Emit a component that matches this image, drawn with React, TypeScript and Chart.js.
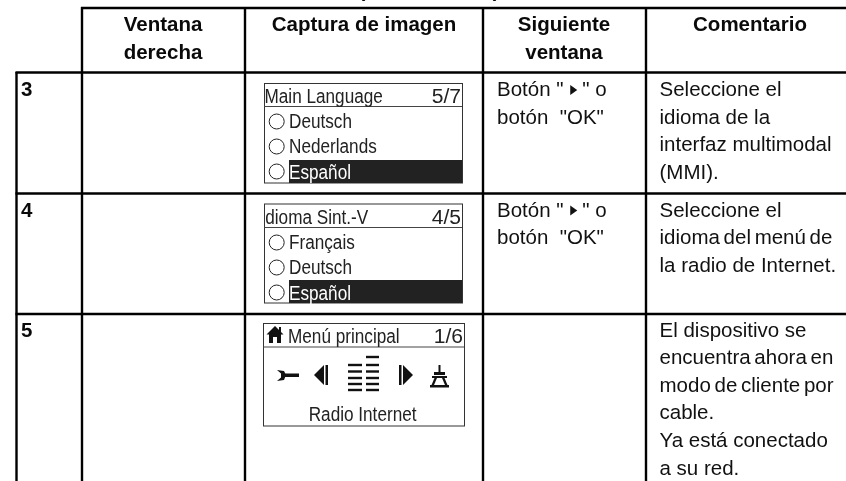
import React, { useEffect, useRef } from "react";
import { Chart, registerables } from "chart.js";

Chart.register(...registerables);

const SANS = '"Liberation Sans", Arial, sans-serif';

const caption = { x: 429, y: -3, text: "(continuación)" };
const headers = [
  { x: 163, y: 31, lines: ["Ventana", "derecha"] },
  { x: 364, y: 31, lines: ["Captura de imagen"] },
  { x: 564, y: 31, lines: ["Siguiente", "ventana"] },
  { x: 750, y: 31, lines: ["Comentario"] },
];
const stepNumbers = [
  { x: 21, y: 96, t: "3" },
  { x: 21, y: 217, t: "4" },
  { x: 21, y: 337, t: "5" },
];
const nextWindowCells = [
  { y: 96, lines: ['Botón " ', 'botón  "OK"'] },
  { y: 216.5, lines: ['Botón " ', 'botón  "OK"'] },
];
const commentCells = [
  { y: 96, lines: ["Seleccione el", "idioma de la", "interfaz multimodal", "(MMI)."] },
  { y: 216.5, lines: ["Seleccione el", "idioma del menú de", "la radio de Internet."] },
  { y: 336.5, lines: ["El dispositivo se", "encuentra ahora en", "modo de cliente por", "cable.", "Ya está conectado", "a su red."] },
];
const tightLines = ["idioma del menú de", "encuentra ahora en", "modo de cliente por"];
const screens = [
  { x0: 264, x1: 462, y0: 83.5, y1: 183, rule: 106, titleX: 264.5, title: "Main Language", page: "5/7", options: ["Deutsch", "Nederlands", "Español"] },
  { x0: 264, x1: 462, y0: 204, y1: 303, rule: 227, titleX: 260.5, title: "Idioma Sint.-V", page: "4/5", options: ["Français", "Deutsch", "Español"] },
];
const menuScreen = { x0: 263, x1: 464, y0: 323.5, y1: 426, rule: 346.5, title: "Menú principal", page: "1/6", label: "Radio Internet" };
const listLeftBars = [365, 371.5, 378, 384, 390];
const listRightBars = [357, 365, 371.5, 378, 384, 390];

const cellRules: number[][][] = [
  [[81, 8], [846, 8]],
  [[15.5, 72.5], [846, 72.5]],
  [[15.5, 193.5], [846, 193.5]],
  [[15.5, 314], [846, 314]],
  [[16.5, 72], [16.5, 481]],
  [[82, 7], [82, 481]],
  [[245, 7], [245, 481]],
  [[483, 7], [483, 481]],
  [[646, 7], [646, 481]],
];

const tablePlugin = {
  id: "tableText",
  afterDatasetsDraw(chart: any) {
    const { ctx, scales } = chart;
    const X = (v: number) => scales.x.getPixelForValue(v);
    const Y = (v: number) => scales.y.getPixelForValue(v);
    const poly = (pts: number[][]) => {
      ctx.beginPath();
      pts.forEach((p, i) => (i ? ctx.lineTo(X(p[0]), Y(p[1])) : ctx.moveTo(X(p[0]), Y(p[1]))));
      ctx.closePath();
      ctx.fill();
    };
    const box = (x0: number, y0: number, x1: number, y1: number) =>
      ctx.fillRect(X(x0), Y(y0), X(x1) - X(x0), Y(y1) - Y(y0));
    const narrow = (t: string, x: number, y: number, sx = 0.88, align = "left") => {
      ctx.save();
      ctx.translate(X(x), Y(y));
      ctx.scale(sx, 1);
      ctx.textAlign = align;
      ctx.fillText(t, 0, 0);
      ctx.restore();
    };
    ctx.save();
    ctx.textBaseline = "alphabetic";

    // header
    ctx.fillStyle = "#0a0a0a";
    ctx.font = `bold 20.5px ${SANS}`;
    ctx.textAlign = "center";
    ctx.fillText(caption.text, X(caption.x), Y(caption.y));
    headers.forEach((h) => h.lines.forEach((l, i) => ctx.fillText(l, X(h.x), Y(h.y + i * 28))));
    ctx.textAlign = "left";
    stepNumbers.forEach((s) => ctx.fillText(s.t, X(s.x), Y(s.y)));

    // body
    ctx.font = `20.5px ${SANS}`;
    ctx.fillStyle = "#111";
    nextWindowCells.forEach((c) => {
      ctx.fillText(c.lines[0], X(497), Y(c.y));
      const w = ctx.measureText(c.lines[0]).width;
      poly([[497 + w + 1, c.y - 11], [497 + w + 8, c.y - 6], [497 + w + 1, c.y - 1]]);
      ctx.fillText('" o', X(497 + w + 13), Y(c.y));
      ctx.fillText(c.lines[1], X(497), Y(c.y + 27.7));
    });
    commentCells.forEach((c) =>
      c.lines.forEach((l, i) => {
        ctx.wordSpacing = tightLines.includes(l) ? "-2px" : "0px";
        ctx.fillText(l, X(659.5), Y(c.y + i * 27.6));
      })
    );
    ctx.wordSpacing = "0px";

    // screens
    const frame = (s: any) => {
      ctx.strokeStyle = "#333";
      ctx.lineWidth = 1;
      ctx.strokeRect(X(s.x0) + 0.5, Y(s.y0), X(s.x1) - X(s.x0), Y(s.y1) - Y(s.y0));
      ctx.strokeStyle = "#444";
      ctx.beginPath();
      ctx.moveTo(X(s.x0), Y(s.rule) + 0.5);
      ctx.lineTo(X(s.x1), Y(s.rule) + 0.5);
      ctx.stroke();
    };
    screens.forEach((s) => {
      frame(s);
      ctx.fillStyle = "#222";
      box(289, s.y1 - 23, s.x1, s.y1);
      ctx.font = `19.5px ${SANS}`;
      ctx.fillStyle = "#222";
      ctx.save();
      ctx.beginPath();
      ctx.rect(X(s.x0), Y(s.y0), X(s.x1) - X(s.x0), Y(s.y1) - Y(s.y0));
      ctx.clip();
      narrow(s.title, s.titleX, s.rule - 3);
      ctx.restore();
      narrow(s.page, s.x1 - 1, s.rule - 3, 1.08, "right");
      s.options.forEach((o, i) => {
        const by = s.rule + 22 + i * 25.4;
        ctx.fillStyle = i === 2 ? "#fff" : "#222";
        narrow(o, 289, by);
        ctx.strokeStyle = "#222";
        ctx.lineWidth = 1;
        ctx.beginPath();
        ctx.arc(X(276.7), Y(s.rule + 15.5 + i * 25), 7.5, 0, Math.PI * 2);
        ctx.stroke();
      });
    });

    // main menu screen
    const m = menuScreen;
    frame(m);
    ctx.fillStyle = "#222";
    ctx.font = `19.5px ${SANS}`;
    narrow(m.title, 288, 343);
    narrow(m.page, m.x1 - 1, 343, 1.08, "right");
    narrow(m.label, 362.6, 421, 0.88, "center");

    ctx.fillStyle = "#111";
    // house
    poly([[266.5, 334.5], [275, 326], [283.5, 334.5]]);
    box(269, 334, 281, 343);
    box(279, 327, 281, 332);
    ctx.fillStyle = "#fff";
    box(273, 337, 277, 343);
    ctx.fillStyle = "#111";
    // wrench
    box(284, 373.5, 299, 377);
    poly([[277, 370], [284, 371], [286, 375], [284, 380], [277, 381], [281, 377.5], [281, 373.5]]);
    // left arrow + bar
    poly([[324, 365], [324, 385], [314, 375]]);
    box(325.5, 365, 328, 385);
    // list bars
    listLeftBars.forEach((y) => box(348, y - 1.2, 362, y + 1.2));
    listRightBars.forEach((y) => box(366, y - 1.2, 379, y + 1.2));
    // right arrow + bar
    box(399, 365, 401.5, 385);
    poly([[403, 365], [403, 385], [413, 375]]);
    // tower
    box(438.5, 365, 440.5, 372);
    box(434, 372, 445, 375);
    box(432, 376, 447, 378);
    box(430, 385, 449, 387.5);
    poly([[434.5, 378], [437, 378], [434, 385], [431.5, 385]]);
    poly([[442, 378], [444.5, 378], [447.5, 385], [445, 385]]);
    ctx.restore();
  },
};

export default function App() {
  const ref = useRef<HTMLCanvasElement>(null);
  useEffect(() => {
    const chart = new Chart(ref.current!, {
      type: "scatter",
      data: {
        datasets: cellRules.map((r) => ({
          data: r.map(([x, y]) => ({ x, y })),
          showLine: true,
          borderColor: "#000",
          borderWidth: 2.4,
          pointRadius: 0,
        })),
      },
      options: {
        animation: false,
        responsive: false,
        layout: { padding: 0 },
        plugins: { legend: { display: false }, tooltip: { enabled: false } },
        scales: {
          x: { type: "linear", display: false, min: 0, max: 846 },
          y: { type: "linear", display: false, min: 0, max: 481, reverse: true },
        },
      },
      plugins: [tablePlugin],
    });
    return () => chart.destroy();
  }, []);
  return (
    <canvas
      ref={ref}
      width={846}
      height={481}
      style={{ position: "fixed", left: 0, top: 0, width: 846, height: 481, background: "#fff" }}
    />
  );
}
